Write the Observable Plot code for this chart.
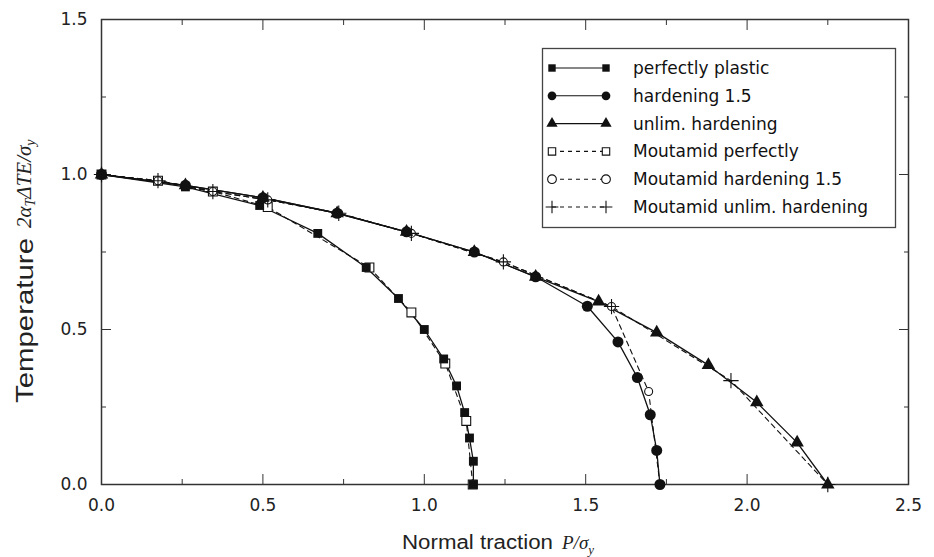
<!DOCTYPE html>
<html><head><meta charset="utf-8">
<script src="https://cdn.jsdelivr.net/npm/d3@7"></script>
<script src="https://cdn.jsdelivr.net/npm/@observablehq/plot@0.6"></script>
<style>body{margin:0;background:#fff} #chart{width:934px;height:557px}</style>
</head><body><div id="chart"></div>
<script>
// ---- data ----
const seriesNames = ["perfectly plastic","hardening 1.5","unlim. hardening","Moutamid perfectly","Moutamid hardening 1.5","Moutamid unlim. hardening"];

const ppX = [0, 0.26, 0.49, 0.67, 0.82, 0.92, 1.0, 1.06, 1.10, 1.125, 1.14, 1.152, 1.152];
const ppY = [1.0, 0.96, 0.90, 0.81, 0.70, 0.60, 0.50, 0.405, 0.318, 0.232, 0.15, 0.075, 0];

const h15X = [0, 0.26, 0.50, 0.73, 0.945, 1.155, 1.345, 1.505, 1.60, 1.66, 1.70, 1.72, 1.73];
const h15Y = [1.0, 0.965, 0.925, 0.875, 0.815, 0.75, 0.67, 0.575, 0.46, 0.345, 0.225, 0.11, 0];

const unlX = [0, 0.26, 0.50, 0.73, 0.945, 1.155, 1.345, 1.54, 1.72, 1.88, 2.03, 2.155, 2.25];
const unlY = [1.0, 0.965, 0.925, 0.875, 0.815, 0.75, 0.67, 0.59, 0.49, 0.385, 0.265, 0.135, 0];

const mpX = [0, 0.175, 0.345, 0.515, 0.83, 0.96, 1.065, 1.13, 1.15];
const mpY = [1.0, 0.98, 0.945, 0.895, 0.70, 0.555, 0.39, 0.205, 0];

const mhX = [0, 0.175, 0.345, 0.515, 0.735, 0.96, 1.245, 1.58, 1.695, 1.73];
const mhY = [1.0, 0.98, 0.945, 0.918, 0.875, 0.81, 0.718, 0.574, 0.30, 0];

const muX = [0, 0.175, 0.345, 0.515, 0.735, 0.96, 1.245, 1.58, 1.95, 2.25];
const muY = [1.0, 0.98, 0.945, 0.918, 0.875, 0.81, 0.718, 0.574, 0.335, 0];

const xMajor = [0, 0.5, 1.0, 1.5, 2.0, 2.5];
const xMinor = [0.25, 0.75, 1.25, 1.75, 2.25];
const yMajor = [0, 0.5, 1.0, 1.5];
const yMinor = [0.25, 0.75, 1.25];

// ---- build tables ----
const rows = (name, xs, ys) => xs.map((x, i) => ({series: name, x, y: ys[i]}));
const pp = rows(seriesNames[0], ppX, ppY);
const h15 = rows(seriesNames[1], h15X, h15Y);
const unl = rows(seriesNames[2], unlX, unlY);
const mp = rows(seriesNames[3], mpX, mpY);
const mh = rows(seriesNames[4], mhX, mhY);
const mu = rows(seriesNames[5], muX, muY);

const ink = "#111";
const tickFont = {fontSize: 17, fontFamily: "DejaVu Sans", fill: "#222"};
const noText = () => "";
const tk = (fn, data, anchor, size) => fn(data, {anchor, tickSize: -size, tickFormat: noText, label: null, stroke: "#333"});

const plot = Plot.plot({
  width: 934, height: 557,
  marginLeft: 101, marginRight: 26, marginTop: 19, marginBottom: 73,
  style: {background: "#fff", overflow: "visible"},
  x: {domain: [0, 2.5], axis: null},
  y: {domain: [0, 1.5], axis: null},
  marks: [
    tk(Plot.axisX, xMajor, "bottom", 10),
    tk(Plot.axisX, xMinor, "bottom", 5),
    tk(Plot.axisX, xMajor, "top", 10),
    tk(Plot.axisX, xMinor, "top", 5),
    tk(Plot.axisY, yMajor, "left", 10),
    tk(Plot.axisY, yMinor, "left", 5),
    tk(Plot.axisY, yMajor, "right", 10),
    tk(Plot.axisY, yMinor, "right", 5),
    Plot.axisX(xMajor, {anchor: "bottom", tickSize: 0, tickPadding: 14, label: null, tickFormat: d3.format(".1f"), ...tickFont}),
    Plot.axisY(yMajor, {anchor: "left", tickSize: 0, tickPadding: 14, label: null, tickFormat: d3.format(".1f"), ...tickFont}),
    Plot.frame({stroke: "#333", strokeWidth: 1.5}),
    // dashed Moutamid curves
    Plot.line([...mp, ...mh, ...mu], {x: "x", y: "y", z: "series", stroke: ink, strokeWidth: 1.1, strokeDasharray: "5,4"}),
    // solid curves
    Plot.line([...pp, ...h15, ...unl], {x: "x", y: "y", z: "series", stroke: ink, strokeWidth: 1.3}),
    // open markers
    Plot.dot(mp, {x: "x", y: "y", symbol: "square", r: 5, fill: "#fff", stroke: ink, strokeWidth: 1.1}),
    Plot.dot(mh, {x: "x", y: "y", symbol: "circle", r: 4, fill: "#fff", stroke: ink, strokeWidth: 1.1}),
    Plot.dot(mu, {x: "x", y: "y", symbol: "plus", r: 5, stroke: ink, strokeWidth: 1.1}),
    // filled markers
    Plot.dot(pp, {x: "x", y: "y", symbol: "square", r: 5, fill: ink}),
    Plot.dot(h15, {x: "x", y: "y", symbol: "circle", r: 5.5, fill: ink}),
    Plot.dot(unl, {x: "x", y: "y", symbol: "triangle", r: 5, fill: ink})
  ]
});
document.getElementById("chart").appendChild(plot);

// ---- axis labels (mixed fonts) ----
const svg = d3.select(plot);
const serif = "Liberation Serif, DejaVu Serif, serif";
const xl = svg.append("text").attr("text-anchor", "start").attr("fill", "#222");
xl.append("tspan").attr("x", 402).attr("y", 549).attr("font-family", "Liberation Sans, Arial").attr("font-size", 20)
  .attr("textLength", 151).attr("lengthAdjust", "spacingAndGlyphs").text("Normal traction");
xl.append("tspan").attr("x", 562).attr("y", 549).attr("font-family", serif).attr("font-style", "italic").attr("font-size", 19).text("P/σ");
xl.append("tspan").attr("font-family", serif).attr("font-style", "italic").attr("font-size", 13).attr("dy", 5).text("y");

const yl = svg.append("text").attr("transform", "translate(33,403) rotate(-90)").attr("text-anchor", "start").attr("fill", "#222");
yl.append("tspan").attr("x", 0).attr("y", 0).attr("font-family", "Liberation Sans, Arial").attr("font-size", 24)
  .attr("textLength", 165).attr("lengthAdjust", "spacingAndGlyphs").text("Temperature");
const ym = svg.append("text").attr("transform", "translate(31,228) rotate(-90)").attr("text-anchor", "start").attr("fill", "#222")
  .attr("font-family", serif).attr("font-style", "italic");
ym.append("tspan").attr("x", 0).attr("y", 0).attr("font-size", 21).text("2α");
ym.append("tspan").attr("font-size", 14).attr("dy", 4).text("T");
ym.append("tspan").attr("font-size", 21).attr("dy", -4).text("ΔTE/σ");
ym.append("tspan").attr("font-size", 14).attr("dy", 4).text("y");

// ---- legend ----
const legendStyles = [
  {symbol: d3.symbolSquare, fill: ink, stroke: "none", dash: null},
  {symbol: d3.symbolCircle, fill: ink, stroke: "none", dash: null},
  {symbol: d3.symbolTriangle, fill: ink, stroke: "none", dash: null},
  {symbol: d3.symbolSquare, fill: "#fff", stroke: ink, dash: "4,4"},
  {symbol: d3.symbolCircle, fill: "#fff", stroke: ink, dash: "4,4"},
  {symbol: d3.symbolPlus, fill: "none", stroke: ink, dash: "4,4"}
];
const lg = svg.append("g");
lg.append("rect").attr("x", 542.5).attr("y", 48.5).attr("width", 353).attr("height", 179)
  .attr("fill", "#fff").attr("stroke", "#444").attr("stroke-width", 1.3);
seriesNames.forEach((name, i) => {
  const yy = 68 + i * 27.8;
  const st = legendStyles[i];
  lg.append("line").attr("x1", 552).attr("x2", 606).attr("y1", yy).attr("y2", yy)
    .attr("stroke", ink).attr("stroke-width", 1.1).attr("stroke-dasharray", st.dash);
  [552, 606].forEach(cx => {
    const size = i === 1 || i === 4 ? 60 : 55;
    lg.append("path").attr("transform", `translate(${cx},${yy})`)
      .attr("d", d3.symbol(st.symbol, size)())
      .attr("fill", st.fill).attr("stroke", st.stroke).attr("stroke-width", 1.1);
  });
  lg.append("text").attr("x", 633).attr("y", yy).attr("dy", "0.35em").attr("text-anchor", "start")
    .attr("font-family", "DejaVu Sans").attr("font-size", 17).attr("fill", "#111").text(name);
});
</script>
</body></html>
